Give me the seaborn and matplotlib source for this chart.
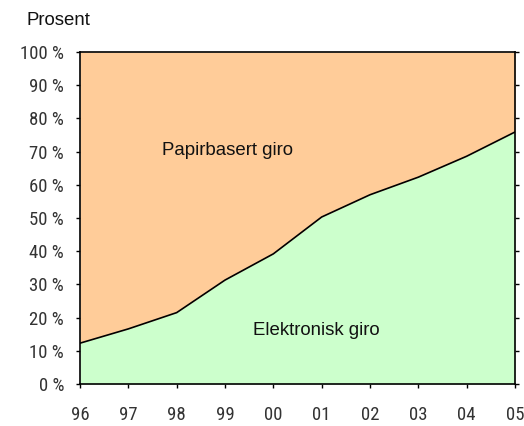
import matplotlib
matplotlib.use("Agg")
import matplotlib.pyplot as plt
import seaborn as sns
import pandas as pd

# Data: share of electronic giro (percent)
years = ["96", "97", "98", "99", "00", "01", "02", "03", "04", "05"]
elektronisk = [12.3, 16.6, 21.5, 31.3, 39.2, 50.3, 57.0, 62.3, 68.6, 75.9]
y_ticks = [0, 10, 20, 30, 40, 50, 60, 70, 80, 90, 100]

df = pd.DataFrame({"pos": range(len(years)), "year": years, "Elektronisk": elektronisk})

sns.set_theme(style="ticks")
plt.rcParams["font.family"] = ["Liberation Sans", "DejaVu Sans"]
narrow = ["Roboto Condensed", "Archivo Narrow", "DejaVu Sans"]

fig = plt.figure(figsize=(5.24, 4.26), dpi=100)
ax = fig.add_axes([80 / 524, 42 / 426, 435 / 524, 332 / 426])

ax.fill_between(df["pos"], 0, df["Elektronisk"], color="#CCFFCC", linewidth=0)
ax.fill_between(df["pos"], df["Elektronisk"], 100, color="#FFCC99", linewidth=0)
sns.lineplot(data=df, x="pos", y="Elektronisk", color="black", linewidth=1.2, ax=ax)

ax.set_xlim(0, len(years) - 1)
ax.set_ylim(0, 100)
ax.set_xticks(df["pos"])
ax.set_xticklabels(years, fontfamily=narrow, fontsize=13.5, color="#333333")
ax.set_yticks(y_ticks)
ax.set_yticklabels([f"{v} %" for v in y_ticks], fontfamily=narrow, fontsize=13.5, color="#333333")
ax.set_xlabel("")
ax.set_ylabel("")

ax.tick_params(axis="y", which="both", right=True, direction="out", length=3, width=1, color="black", pad=8.5)
ax.tick_params(axis="x", direction="out", length=3, width=1, color="black", pad=13)
for s in ax.spines.values():
    s.set_visible(True)
    s.set_color("black")
    s.set_linewidth(1.2)

ax.text((162.5 - 80) / 435, (384 - 150.7) / 332, "Papirbasert giro", transform=ax.transAxes,
        fontsize=13.4, va="center", ha="left", color="#111111")
ax.text((253.3 - 80) / 435, (384 - 330.7) / 332, "Elektronisk giro", transform=ax.transAxes,
        fontsize=13.4, va="center", ha="left", color="#111111")
fig.text(27 / 524, 1 - 20.7 / 426, "Prosent", fontsize=13.4, va="center", ha="left", color="#111111")

fig.savefig("out.png", dpi=100)
